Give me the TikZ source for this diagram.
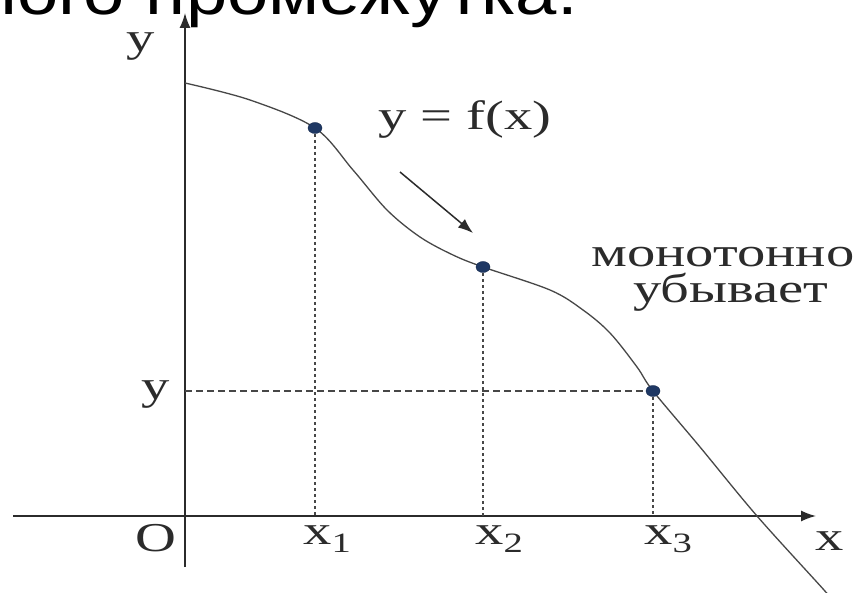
\documentclass[tikz,border=0pt]{standalone}
\usepackage{fontspec}
\setmainfont{Liberation Serif}
\newfontfamily\headfont{Liberation Sans}
\usetikzlibrary{arrows.meta,shapes.geometric}
\definecolor{ink}{HTML}{2B2B2B}
\definecolor{curvecol}{HTML}{474747}
\definecolor{dotcol}{HTML}{1F3864}
\newcommand{\lblsz}{\fontsize{41}{45}\selectfont}
\newcommand{\subsz}{\fontsize{28}{30}\selectfont}
\tikzset{
  lbl/.style={inner sep=0pt, text=ink, font=\lblsz, xscale=1.38},
  axis/.style={draw=ink, line width=1.5pt, -{Latex[length=15pt,width=11pt]}},
  fcurve/.style={draw=curvecol, line width=1.3pt},
  vguide/.style={draw=curvecol, line width=1.3pt, dash pattern=on 3pt off 3pt},
  hguide/.style={draw=curvecol, line width=1.3pt, dash pattern=on 6.5pt off 4.5pt},
  ptdot/.style={ellipse, fill=dotcol, draw=dotcol!80!black, line width=0.4pt, minimum width=14pt, minimum height=11pt, inner sep=0pt},
  hint/.style={draw=ink, line width=1.5pt, -{Latex[length=15pt,width=11pt]}}
}
\begin{document}
\begin{tikzpicture}[x=1pt,y=1pt]
\useasboundingbox (0,0) rectangle (861,592);
\clip (0,0) rectangle (861,592);
\fill[white] (0,0) rectangle (861,592);
% heading fragment (cut off by the frame)
\node[anchor=base east, inner sep=0pt, font=\headfont\fontsize{64}{70}\selectfont, xscale=1.16] (head) at (578,577) {ного промежутка.};
% axes
\coordinate (O) at (185,76);
\coordinate (ybot) at (185,25);
\coordinate (ytop) at (185,579);
\coordinate (xleft) at (13,76);
\coordinate (xright) at (816,76);
\draw[axis] (ybot) -- (ytop);
\draw[axis] (xleft) -- (xright);
% curve
\draw[fcurve] plot[smooth, tension=0.55] coordinates {(185,509) (250,492) (315,464) (353,422) (387,382) (420,355) (453,337) (483,325) (550,302) (583,282) (610,259) (637,225) (653,201) (700,145) (757,76) (824,2) (830,-6)};
% points
\coordinate (c1) at (315,464);
\coordinate (c2) at (483,325);
\coordinate (c3) at (653,201);
\draw[vguide] (c1) -- (c1 |- O);
\draw[vguide] (c2) -- (c2 |- O);
\draw[vguide] (c3) -- (c3 |- O);
\draw[hguide] (O |- c3) -- (c3);
\node[ptdot] (p1) at (c1) {};
\node[ptdot] (p2) at (c2) {};
\node[ptdot] (p3) at (c3) {};
% direction arrow
\coordinate (a1) at (400,420);
\coordinate (a2) at (473,359);
\draw[hint] (a1) -- (a2);
% labels
\node[lbl, anchor=base] (ylabtop) at (141,540) {y};
\node[lbl, anchor=base] (ylab) at (156,193) {y};
\node[lbl, anchor=base] (olab) at (156,41) {O};
\node[lbl, anchor=base west] (x1lab) at (303,48) {x\raisebox{-8pt}{\subsz 1}};
\node[lbl, anchor=base west] (x2lab) at (475,48) {x\raisebox{-8pt}{\subsz 2}};
\node[lbl, anchor=base west] (x3lab) at (644,48) {x\raisebox{-8pt}{\subsz 3}};
\node[lbl, anchor=base] (xlab) at (830,42) {x};
\node[lbl, anchor=base] (flab) at (465,462) {y = f(x)};
\node[lbl, anchor=base] (mono1) at (723,325) {монотонно};
\node[lbl, anchor=base] (mono2) at (731,289) {убывает};
\end{tikzpicture}
\end{document}
